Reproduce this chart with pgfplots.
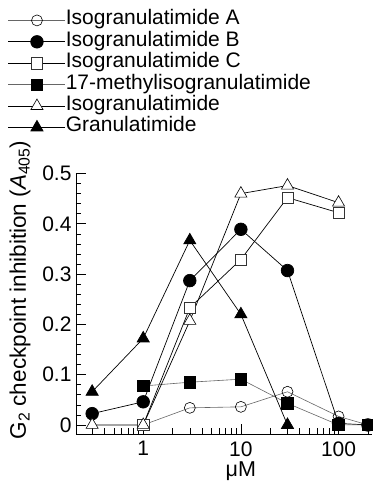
\documentclass[border=0pt]{standalone}
\usepackage{pgfplots}
\pgfplotsset{compat=1.18}
\usepackage{fontspec}
\setmainfont{Liberation Sans}
\newcommand{\lf}{\fontsize{21}{23}\selectfont}
\begin{document}
\begin{tikzpicture}
\useasboundingbox (-76pt,-47pt) rectangle (296pt,434pt);
\begin{axis}[
  at={(0,0)}, anchor=south west,
  scale only axis, width=296pt, height=260.5pt,
  xmode=log, xmin=0.205, xmax=220, ymin=-0.018, ymax=0.5,
  axis x line=bottom, axis y line=left,
  axis line style={-, line width=0.8pt, black},
  tick align=inside, major tick length=10pt, minor tick length=5.5pt,
  tick style={black, line width=0.6pt},
  xtick={1,10,100}, xticklabels={1,10,100},
  minor xtick={0.3,0.4,0.5,0.6,0.7,0.8,0.9,2,3,4,5,6,7,8,9,20,30,40,50,60,70,80,90,200},
  ytick={0,0.1,0.2,0.3,0.4,0.5},
  yticklabels={0,0.1,0.2,0.3,0.4,0.5},
  minor y tick num=4,
  ticklabel style={font=\fontsize{21}{24}\selectfont},
  xticklabel style={yshift=-4pt},
  yticklabel style={xshift=-1pt},
  xlabel={μM},
  xlabel style={at={(axis description cs:0.557,0)}, anchor=center, yshift=-37.5pt, font=\fontsize{21.5}{24}\selectfont},
  ylabel={G\textsubscript{2} checkpoint inhibition (\textit{A}\textsubscript{405})},
  ylabel style={at={(axis description cs:-0.189,0.553)}, anchor=center, font=\fontsize{22.5}{24}\selectfont},
  clip=false,
  legend style={at={(axis description cs:-0.23,1.621)}, anchor=north west,
    draw=none, fill=none, inner sep=0pt, row sep=4.4pt,
    nodes={inner sep=0pt, text height=13pt, text depth=4pt, xshift=4pt}},
  legend cell align=left,
  legend image code/.code={\draw[mark repeat=2,mark phase=2,#1] plot coordinates {(0pt,0pt) (28.5pt,0pt) (57pt,0pt)};},
]
% Isogranulatimide A
\addplot[gray!80!black, line width=0.6pt, mark=o, mark size=5.5pt, mark options={draw=black, fill=white, line width=0.6pt, solid}]
  coordinates {(1,0) (3,0.034) (10,0.036) (30,0.066) (100,0.017) (200,0)};
\addlegendentry{\lf Isogranulatimide A}
% Isogranulatimide B
\addplot[black, line width=0.7pt, mark=*, mark size=6.3pt, mark options={draw=black, fill=black, solid}]
  coordinates {(0.3,0.0225) (1,0.046) (3,0.287) (10,0.389) (30,0.307) (100,0.003) (200,0)};
\addlegendentry{\lf Isogranulatimide B}
% Isogranulatimide C
\addplot[black, line width=0.7pt, mark=square*, mark size=5.6pt, mark options={draw=black!80, fill=white, line width=0.6pt, solid}]
  coordinates {(1,0) (3,0.233) (10,0.329) (30,0.452) (100,0.422)};
\addlegendentry{\lf Isogranulatimide C}
% 17-methylisogranulatimide
\addplot[gray!80!black, line width=0.6pt, mark=square*, mark size=5.8pt, mark options={draw=black, fill=black, solid}]
  coordinates {(1,0.0775) (3,0.085) (10,0.091) (30,0.043) (100,0) (200,0)};
\addlegendentry{\lf 17-methylisogranulatimide}
% Isogranulatimide
\addplot[black, line width=0.7pt, mark=triangle*, mark size=7pt, mark options={draw=black, fill=white, line width=0.6pt, solid}]
  coordinates {(0.3,0) (1,0) (3,0.207) (10,0.46) (30,0.476) (100,0.442)};
\addlegendentry{\lf Isogranulatimide}
% Granulatimide
\addplot[black, line width=0.7pt, mark=triangle*, mark size=7pt, mark options={draw=black, fill=black, solid}]
  coordinates {(0.3,0.066) (1,0.172) (3,0.367) (10,0.22) (30,0)};
\addlegendentry{\lf Granulatimide}
\end{axis}
\end{tikzpicture}
\end{document}
